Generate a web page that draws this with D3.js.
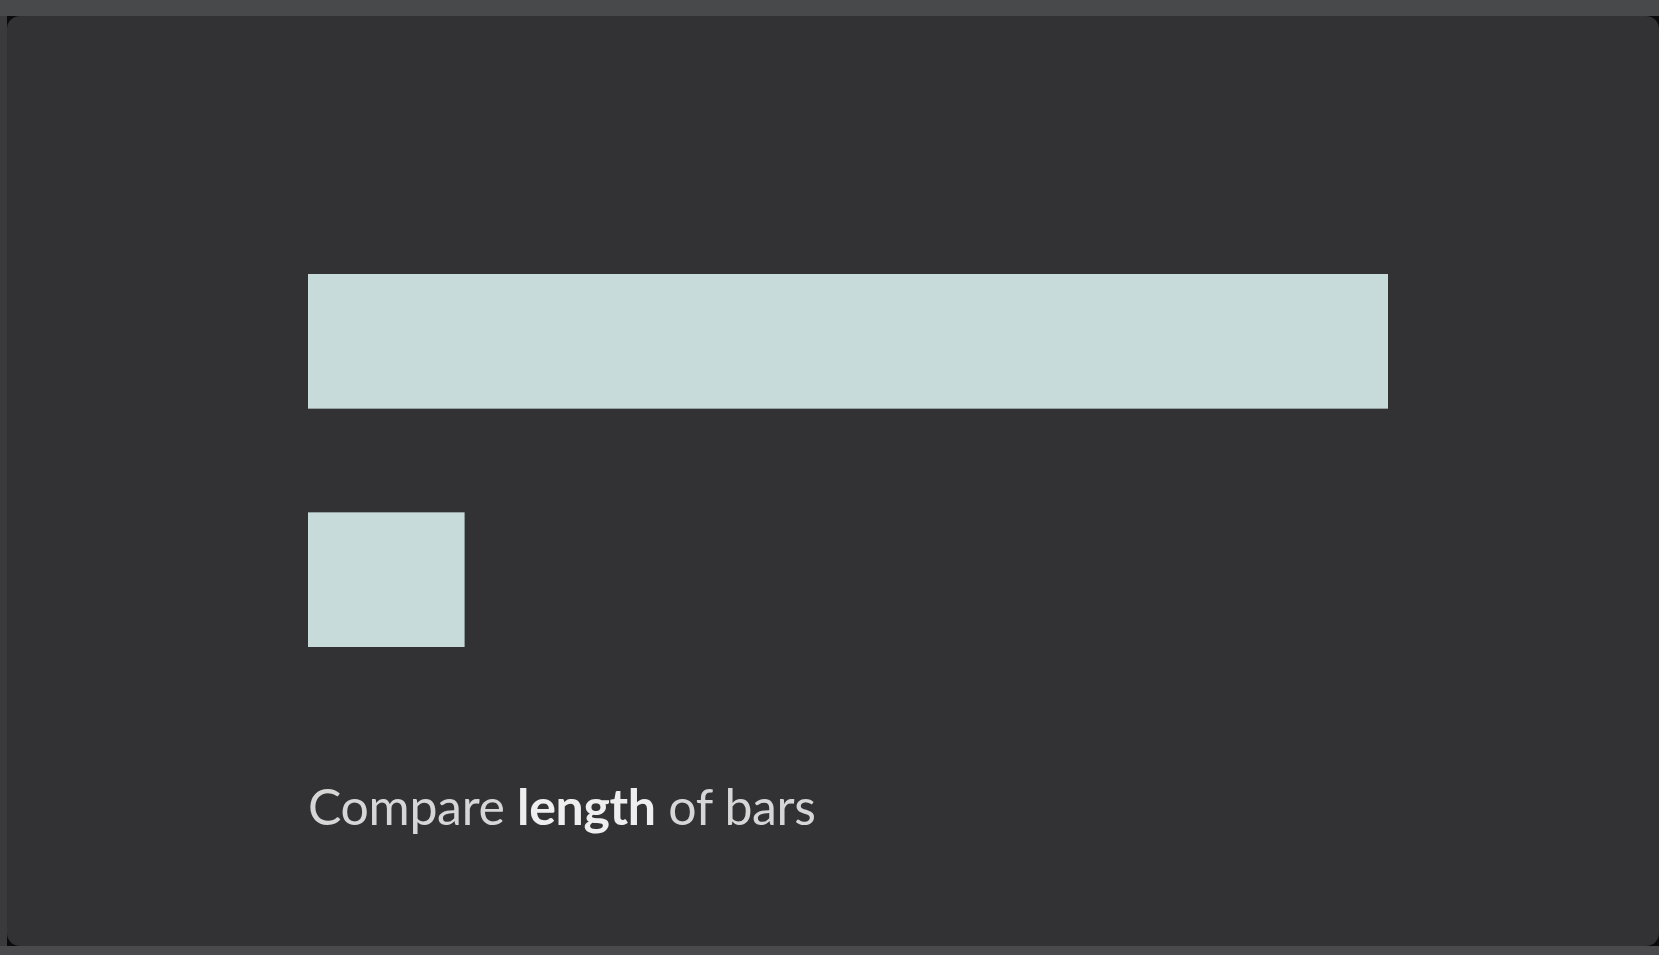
<!DOCTYPE html>
<html>
<head>
<meta charset="utf-8">
<script src="https://cdn.jsdelivr.net/npm/d3@7"></script>
<style>
  html, body { margin: 0; padding: 0; background: #3a3a3c; overflow: hidden; }
  svg { display: block; }
</style>
</head>
<body>
<div class="vis-bars"></div>
<script>
// chart data
const categories = ['A', 'B'];
const values = [100, 14.5];
const captionParts = [
  { text: 'Compare ', bold: false },
  { text: 'length', bold: true },
  { text: ' of bars', bold: false },
];

const W = 1659;
const H = 955;

const svg = d3.select('.vis-bars')
  .append('svg')
  .attr('width', W)
  .attr('height', H);

// frame: top band, panel, bottom band
svg.append('rect').attr('x', 0).attr('y', 0).attr('width', W).attr('height', H).attr('fill', '#3a3a3c');
svg.append('rect').attr('x', 0).attr('y', 0).attr('width', W).attr('height', 16).attr('fill', '#48494b');
svg.append('rect').attr('x', 0).attr('y', 946).attr('width', W).attr('height', 9).attr('fill', '#4a4a4c');

const panel = { x: 7, y: 16, w: W - 7, h: 930 };

svg.append('defs').append('clipPath').attr('id', 'panel-clip')
  .append('rect')
  .attr('x', panel.x).attr('y', panel.y).attr('width', panel.w).attr('height', panel.h);

const pg = svg.append('g').attr('clip-path', 'url(#panel-clip)');
// black shows only in the rounded corners
pg.append('rect')
  .attr('x', panel.x).attr('y', panel.y).attr('width', panel.w).attr('height', panel.h)
  .attr('fill', '#0b0b0c');
pg.append('rect')
  .attr('x', panel.x).attr('y', panel.y).attr('width', panel.w).attr('height', panel.h)
  .attr('rx', 13)
  .attr('fill', '#323133');

const x = d3.scaleLinear()
  .domain([0, d3.max(values)])
  .range([308, 1388]);

const y = d3.scaleBand()
  .domain(categories)
  .range([274, 647])
  .paddingInner(0.435)
  .paddingOuter(0);

svg.append('g')
  .selectAll('rect')
  .data(values)
  .enter()
  .append('rect')
  .attr('x', x(0))
  .attr('y', (d, i) => y(categories[i]))
  .attr('width', (d) => x(d) - x(0))
  .attr('height', y.bandwidth())
  .attr('fill', '#c8dbdb');

// caption
const caption = svg.append('text')
  .attr('x', 308)
  .attr('y', 825)
  .attr('font-family', 'Lato, "Noto Sans", sans-serif')
  .attr('font-size', 50);

caption.selectAll('tspan')
  .data(captionParts)
  .enter()
  .append('tspan')
  .attr('font-weight', (d) => (d.bold ? 700 : 400))
  .attr('fill', (d) => (d.bold ? '#eeeeee' : '#d6d6d6'))
  .style('white-space', 'pre')
  .text((d) => d.text);

// Avenir-like width: spread letters to the width seen in the picture
const wNow = caption.node().getComputedTextLength();
const nChars = captionParts.map((d) => d.text).join('').length;
caption.attr('letter-spacing', (508 - wNow) / (nChars - 1));
</script>
</body>
</html>
